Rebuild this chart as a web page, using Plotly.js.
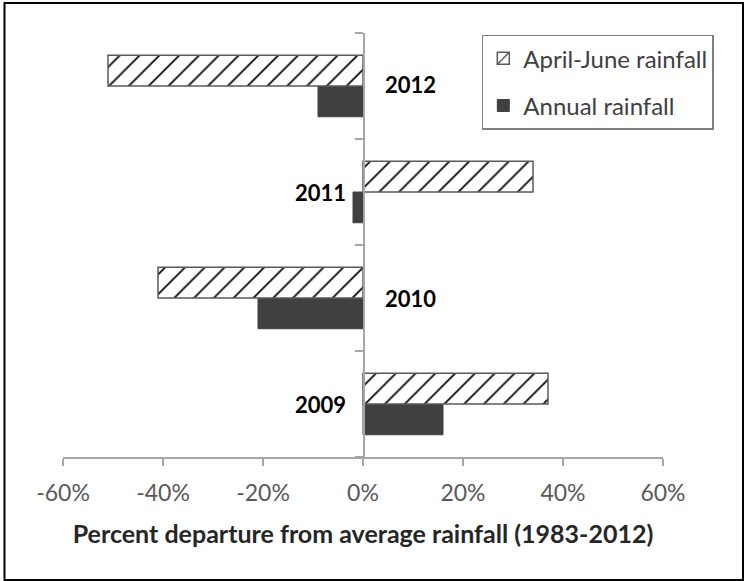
<!DOCTYPE html>
<html>
<head>
<meta charset="utf-8">
<script src="https://cdn.plot.ly/plotly-3.0.1.min.js"></script>
<style>
  html, body { margin: 0; padding: 0; background: #ffffff; }
  #chart { width: 745px; height: 581px; }
</style>
</head>
<body>
<div id="chart"></div>
<script>
// ---- data ----
const categories = ['2009', '2010', '2011', '2012'];
const aprJunRain = [37, -41, 34, -51];      // April-June rainfall, % departure
const annualRain = [16, -21, -2, -9];       // Annual rainfall, % departure
const xTickVals = [-60, -40, -20, 0, 20, 40, 60];
const xTickText = ['-60%', '-40%', '-20%', '0%', '20%', '40%', '60%'];
const seriesNames = ['April-June rainfall', 'Annual rainfall'];
const xTitle = 'Percent departure from average rainfall (1983-2012)';

const FONT = 'Lato, "Open Sans", "DejaVu Sans", sans-serif';

const traces = [
  {
    type: 'bar', orientation: 'h',
    name: seriesNames[1],
    y: categories, x: annualRain,
    legendgroup: 'b', legendrank: 2,
    marker: { color: '#404040', line: { color: '#404040', width: 1 } },
    hoverinfo: 'x+y'
  },
  {
    type: 'bar', orientation: 'h',
    name: seriesNames[0],
    y: categories, x: aprJunRain,
    legendgroup: 'a', legendrank: 1,
    marker: {
      color: '#ffffff',
      line: { color: '#595959', width: 1.5 },
      pattern: { shape: '/', fgcolor: '#000000', bgcolor: '#ffffff', size: 14, solidity: 0.12 }
    },
    hoverinfo: 'x+y'
  }
];

// year labels placed on the side opposite to the April-June bar
const annotations = categories.map((c, i) => {
  const left = aprJunRain[i] > 0;
  return {
    x: 0, y: i, xref: 'x', yref: 'y',
    text: '<b>' + c + '</b>', showarrow: false,
    xanchor: left ? 'right' : 'left',
    xshift: left ? -15 : 20,
    yshift: i === categories.length - 1 ? 2 : 0,
    font: { family: FONT, size: 22, color: '#000000' }
  };
});

const layout = {
  width: 745, height: 581,
  margin: { l: 63, r: 82, t: 33, b: 124 },
  paper_bgcolor: '#ffffff',
  plot_bgcolor: '#ffffff',
  barmode: 'group',
  bargap: 0.42,
  bargroupgap: 0,
  showlegend: true,
  legend: {
    x: 0.698, y: 0.996, xanchor: 'left', yanchor: 'top',
    bgcolor: '#ffffff', bordercolor: '#7f7f7f', borderwidth: 1.5,
    font: { family: FONT, size: 24, color: '#404040' },
    traceorder: 'grouped',
    tracegroupgap: 13
  },
  xaxis: {
    range: [-60, 60],
    tickmode: 'array',
    tickvals: xTickVals,
    ticktext: xTickText,
    showgrid: false, zeroline: false,
    showline: true, linecolor: '#a6a6a6', linewidth: 1.5,
    ticks: 'outside', ticklen: 7, tickcolor: '#a6a6a6', tickwidth: 1.5,
    ticklabelstandoff: 8,
    tickfont: { family: FONT, size: 23, color: '#595959' },
    title: { text: xTitle, standoff: 20, font: { family: FONT, size: 25, color: '#262626', weight: 'bold' } },
    fixedrange: true
  },
  yaxis: {
    type: 'category',
    categoryorder: 'array', categoryarray: categories,
    range: [-0.5, categories.length - 0.5],
    anchor: 'free', position: 0.5,
    showgrid: false, zeroline: false,
    showline: true, linecolor: '#a6a6a6', linewidth: 1.5,
    ticks: 'outside', tickson: 'boundaries', ticklen: 8, tickcolor: '#a6a6a6', tickwidth: 1.5,
    showticklabels: false,
    fixedrange: true
  },
  annotations: annotations,
  shapes: [
    {
      type: 'rect', xref: 'paper', yref: 'paper',
      x0: (4.5 - 63) / 600, x1: (743 - 63) / 600,
      y0: (457 - 580) / 424, y1: (457 - 3) / 424,
      line: { color: '#000000', width: 2 }, fillcolor: 'rgba(0,0,0,0)', layer: 'above'
    }
  ]
};

Plotly.newPlot('chart', traces, layout, { displayModeBar: false, staticPlot: true });
</script>
</body>
</html>
